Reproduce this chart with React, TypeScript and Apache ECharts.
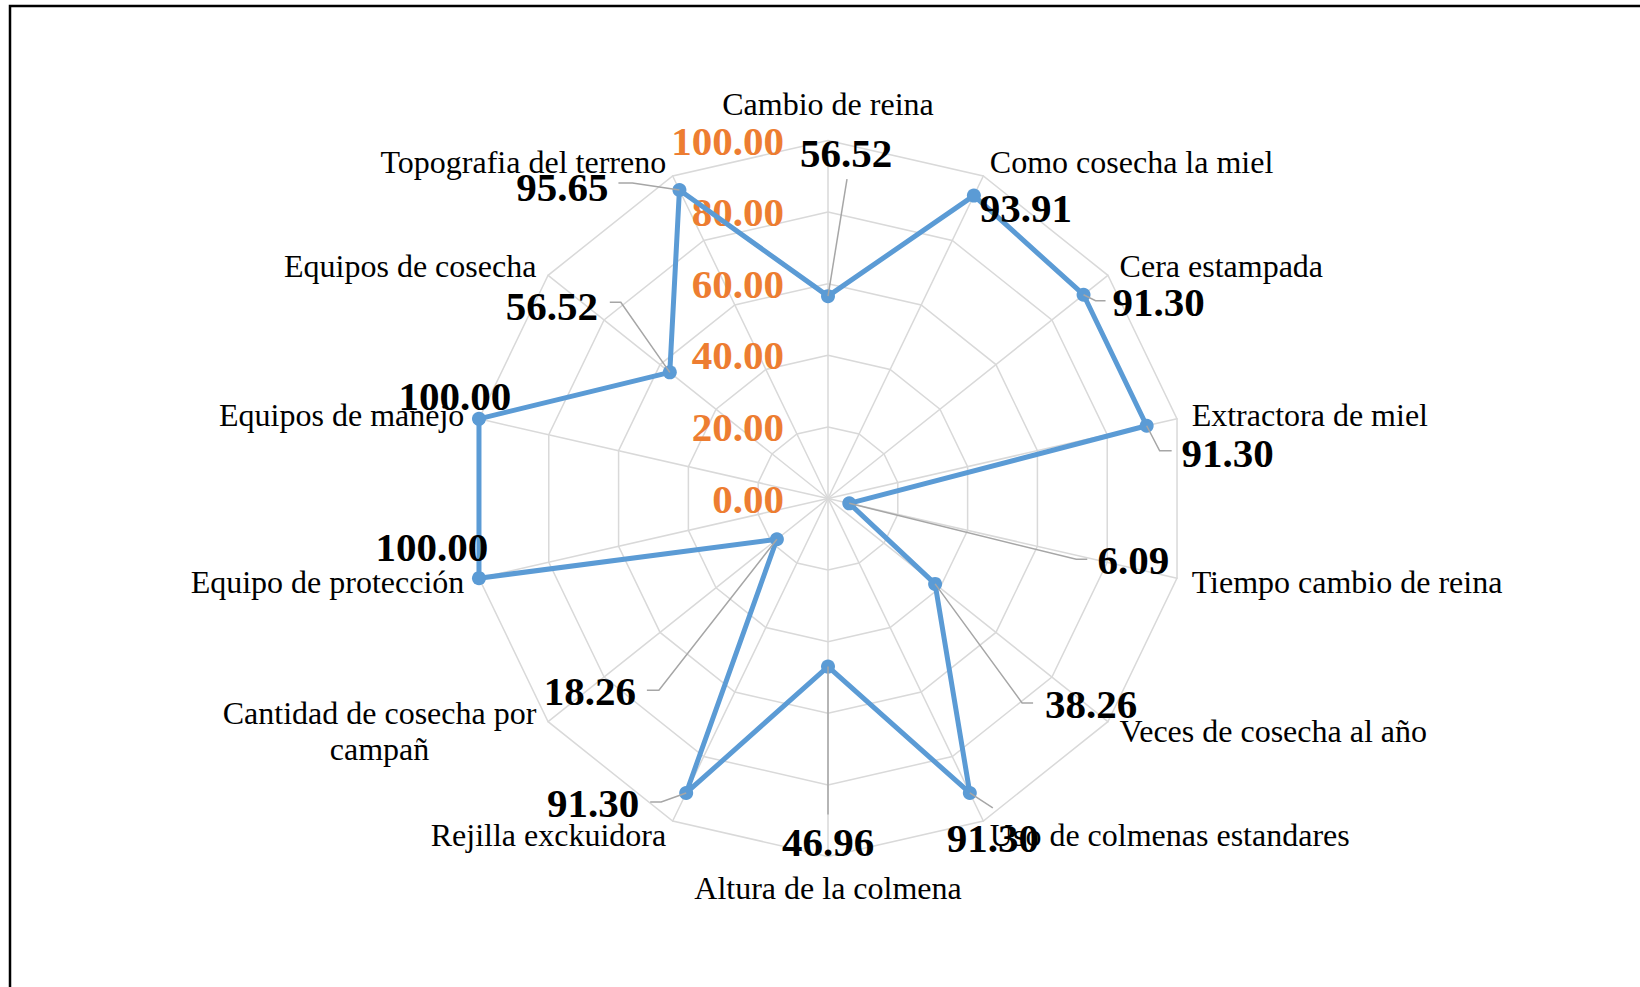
import React, { useEffect, useRef } from 'react';
import * as echarts from 'echarts';

// ---- data (clockwise from the top) ----
const categories: string[] = [
  'Cambio de reina',
  'Como cosecha la miel',
  'Cera estampada',
  'Extractora de miel',
  'Tiempo cambio de reina',
  'Veces de cosecha al año',
  'Uso de colmenas estandares',
  'Altura de la colmena',
  'Rejilla exckuidora',
  'Cantidad de cosecha por campañ',
  'Equipo de protección',
  'Equipos de manejo',
  'Equipos de cosecha',
  'Topografia del terreno',
];
const values: number[] = [56.52, 93.91, 91.3, 91.3, 6.09, 38.26, 91.3, 46.96, 91.3, 18.26, 100.0, 100.0, 56.52, 95.65];
const axisTicks: number[] = [0, 20, 40, 60, 80, 100];

// ---- label layout (styling: offsets from each data point, px) ----
const labelOffsets: number[][] = [
  [18, -143], [52, 12], [75, 7], [81, 27], [284, 57], [156, 120], [23, 45],
  [0, 175], [-93, 10], [-187, 152], [-47, -31], [-24, -23], [-118, -66], [-117, -3],
];
const leaderPaths: number[][][] = [
  [[0, 0], [19, -117]],
  [],
  [[0, 0], [12, 6], [22, 6]],
  [[0, 0], [13, 25], [25, 25]],
  [[0, 0], [227, 56], [238, 56]],
  [[0, 0], [87, 119], [98, 119]],
  [[0, 0], [23, 15]],
  [[0, 0], [0, 148]],
  [[0, 0], [-25, 9], [-36, 9]],
  [[0, 0], [-118, 151], [-130, 151]],
  [],
  [],
  [[0, 0], [-49, -70], [-60, -70]],
  [[0, 0], [-47, -7], [-61, -7]],
];

const SERIF = '"Times New Roman", "Liberation Serif", serif';
const CX = 828;
const CY = 498.5;
const RADIUS = 358;
const MAXV = axisTicks[axisTicks.length - 1];
const N = categories.length;
// ECharts lays out indicators counter-clockwise; map clockwise index -> echarts index
const ecIndexOf = (k: number) => (N - k) % N;

export default function App() {
  const ref = useRef<HTMLDivElement>(null);
  useEffect(() => {
    if (!ref.current) return;
    const chart = echarts.init(ref.current, null, { renderer: 'svg' });
    const ecOrder = categories.map((_, j) => (N - j) % N);
    const indicators = ecOrder.map((k, j) => {
      const ind: any = { name: categories[k], min: axisTicks[0], max: MAXV };
      if (j === 0) ind.axisLabel = { show: true };
      return ind;
    });
    const option: any = {
      animation: false,
      backgroundColor: '#fff',
      radar: {
        center: [CX, CY],
        radius: RADIUS,
        startAngle: 90,
        shape: 'polygon',
        splitNumber: axisTicks.length - 1,
        indicator: indicators,
        nameGap: 15,
        axisName: {
          color: '#000',
          fontSize: 32,
          fontFamily: SERIF,
          formatter: (name: string) => {
            if (name === 'Cantidad de cosecha por campañ') {
              return '{c|Cantidad de cosecha por}\n{c|campañ}';
            }
            return name;
          },
          rich: {
            c: { align: 'center', fontSize: 32, lineHeight: 36, fontFamily: SERIF, color: '#000' },
          },
        },
        axisLine: { show: true, lineStyle: { color: '#D9D9D9', width: 1.5 } },
        splitLine: { show: true, lineStyle: { color: '#D9D9D9', width: 1.5 } },
        splitArea: { show: false },
        axisTick: { show: false },
        axisLabel: {
          show: false,
          color: '#ED7D31',
          fontWeight: 'bold',
          fontSize: 41,
          fontFamily: SERIF,
          margin: 44,
          formatter: (v: number) => Number(v).toFixed(2),
        },
      },
      series: [
        {
          type: 'radar',
          symbol: 'circle',
          symbolSize: 14,
          lineStyle: { color: '#5B9BD5', width: 5 },
          itemStyle: { color: '#5B9BD5' },
          label: { show: false },
          data: [{ value: ecOrder.map((k) => values[k]), name: 'Serie' }],
        },
      ],
    };
    chart.setOption(option);

    // positions of the data points from the radar coordinate system
    let cs: any = null;
    try {
      cs = (chart as any).getModel().getComponent('radar', 0).coordinateSystem;
    } catch (e) {
      cs = null;
    }
    const pointOf = (k: number): number[] => {
      if (cs && cs.dataToPoint) {
        const p = cs.dataToPoint(values[k], ecIndexOf(k));
        if (p && isFinite(p[0])) return p;
      }
      const th = (k * 2 * Math.PI) / N;
      const r = (values[k] / MAXV) * RADIUS;
      return [CX + r * Math.sin(th), CY - r * Math.cos(th)];
    };

    const graphics: any[] = [
      {
        type: 'rect',
        shape: { x: 10, y: 6, width: 1700, height: 1100 },
        style: { fill: 'none', stroke: '#000', lineWidth: 2.5 },
        z: 0,
        silent: true,
      },
    ];
    categories.forEach((_, k) => {
      const p = pointOf(k);
      const path = leaderPaths[k];
      if (path.length > 1) {
        graphics.push({
          type: 'polyline',
          shape: { points: path.map((d) => [p[0] + d[0], p[1] + d[1]]) },
          style: { stroke: '#A6A6A6', lineWidth: 1.5, fill: 'none' },
          z: 50,
          silent: true,
        });
      }
      const o = labelOffsets[k];
      graphics.push({
        type: 'text',
        x: p[0] + o[0],
        y: p[1] + o[1],
        z: 100,
        silent: true,
        style: {
          text: values[k].toFixed(2),
          fill: '#000',
          fontSize: 41,
          fontWeight: 'bold',
          fontFamily: SERIF,
          align: 'center',
          verticalAlign: 'middle',
        },
      });
    });
    chart.setOption({ graphic: graphics });

    return () => chart.dispose();
  }, []);
  return (
    <div
      ref={ref}
      style={{ position: 'absolute', left: 0, top: 0, width: 1640, height: 987 }}
    />
  );
}
